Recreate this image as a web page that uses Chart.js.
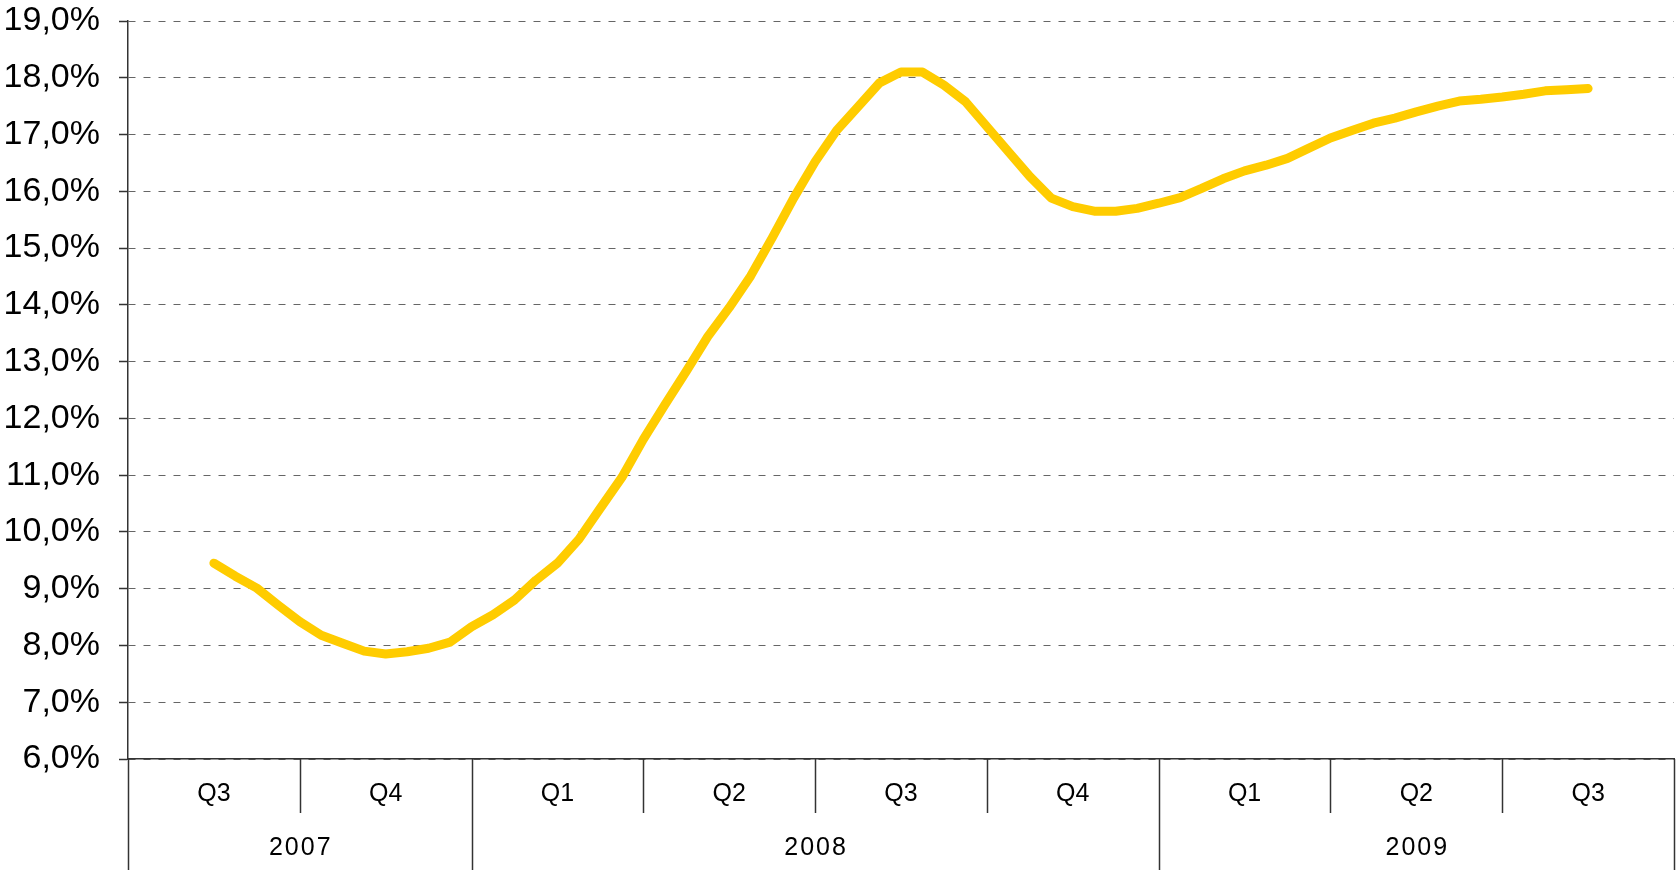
<!DOCTYPE html>
<html>
<head>
<meta charset="utf-8">
<script src="https://cdn.jsdelivr.net/npm/chart.js@4/dist/chart.umd.min.js"></script>
<style>
  html, body { margin: 0; padding: 0; background: #fff; }
  #wrap { width: 1676px; height: 870px; position: relative; }
</style>
</head>
<body>
<div id="wrap"><canvas id="chart"></canvas></div>
<script>
const quarterLabels = ["Q3", "Q4", "Q1", "Q2", "Q3", "Q4", "Q1", "Q2", "Q3"];
const yearLabels = ["2007", "2008", "2009"];
const quartersPerYear = [2, 4, 3];

// 8 readings per quarter, from the middle of Q3 2007 to the middle of Q3 2009
const pointsPerQuarter = 8;
const rateValues = [
  9.45, 9.22, 9.01, 8.71, 8.42, 8.18, 8.04, 7.90,
  7.85, 7.89, 7.95, 8.06, 8.33, 8.54, 8.80, 9.15,
  9.45, 9.87, 10.42, 10.96, 11.63, 12.24, 12.83, 13.44,
  13.95, 14.51, 15.18, 15.88, 16.52, 17.07, 17.49, 17.91,
  18.10, 18.10, 17.87, 17.58, 17.14, 16.70, 16.26, 15.88,
  15.73, 15.65, 15.65, 15.70, 15.79, 15.89, 16.05, 16.22,
  16.36, 16.46, 16.58, 16.76, 16.94, 17.07, 17.20, 17.29,
  17.40, 17.50, 17.59, 17.62, 17.66, 17.71, 17.77, 17.79,
  17.81
];

const yMin = 6;
const yMax = 19;

const FONT = "'Liberation Sans', Arial, sans-serif";

function formatPct(v) {
  return v.toFixed(1).replace(".", ",") + "%";
}

// dividers under the axis and the year row
const groupAxis = {
  id: "groupAxis",
  afterDraw(chart) {
    const ctx = chart.ctx;
    const xs = chart.scales.x;
    const bottom = chart.chartArea.bottom;
    const yearEnds = [0];
    quartersPerYear.forEach(n => yearEnds.push(yearEnds[yearEnds.length - 1] + n));

    ctx.save();
    ctx.strokeStyle = "#333";
    ctx.lineWidth = 1.5;
    for (let b = 0; b <= quarterLabels.length; b++) {
      const px = Math.round(xs.getPixelForValue(b)) + 0.5;
      const isYear = yearEnds.includes(b);
      ctx.beginPath();
      ctx.moveTo(px, bottom);
      ctx.lineTo(px, isYear ? chart.height : bottom + 54);
      ctx.stroke();
    }

    ctx.fillStyle = "#000";
    ctx.font = "25px " + FONT;
    ctx.letterSpacing = "2px";
    ctx.textAlign = "center";
    ctx.textBaseline = "middle";
    yearLabels.forEach((label, i) => {
      const mid = (xs.getPixelForValue(yearEnds[i]) + xs.getPixelForValue(yearEnds[i + 1])) / 2;
      ctx.fillText(label, mid + 1, bottom + 89);
    });
    ctx.restore();
  }
};

new Chart(document.getElementById("chart"), {
  type: "line",
  data: {
    datasets: [{
      data: rateValues.map((v, i) => ({ x: 0.5 + i / pointsPerQuarter, y: v })),
      borderColor: "#FFCC00",
      borderWidth: 9,
      borderCapStyle: "round",
      borderJoinStyle: "round",
      pointRadius: 0,
      tension: 0,
      xAxisID: "x",
      yAxisID: "y"
    }]
  },
  options: {
    responsive: true,
    maintainAspectRatio: false,
    animation: false,
    layout: { padding: { top: 21, right: 2, left: 0, bottom: 0 } },
    plugins: { legend: { display: false }, tooltip: { enabled: false } },
    scales: {
      x: {
        type: "linear",
        min: 0,
        max: quarterLabels.length,
        display: false
      },
      q: {
        type: "category",
        labels: quarterLabels,
        position: "bottom",
        offset: true,
        grid: { display: false, drawTicks: false },
        border: { display: true, color: "#333", width: 1.5 },
        ticks: {
          color: "#000",
          font: { family: FONT, size: 25 },
          padding: 20,
          maxRotation: 0,
          autoSkip: false
        },
        afterFit(axis) { axis.height = 111; }
      },
      y: {
        min: yMin,
        max: yMax,
        grid: {
          color: "#666",
          lineWidth: 1,
          tickLength: 9,
          tickColor: "#333",
          tickBorderDash: [],
          tickWidth: 1.5
        },
        border: { display: true, color: "#333", width: 1.5, dash: [7, 8] },
        ticks: {
          stepSize: 1,
          color: "#000",
          padding: 19,
          font: { family: FONT, size: 34 },
          callback: v => formatPct(v)
        },
        afterFit(axis) {
          axis.width = 128;
          axis.paddingTop = 0;
          axis.paddingBottom = 0;
        }
      }
    }
  },
  plugins: [groupAxis]
});
</script>
</body>
</html>
